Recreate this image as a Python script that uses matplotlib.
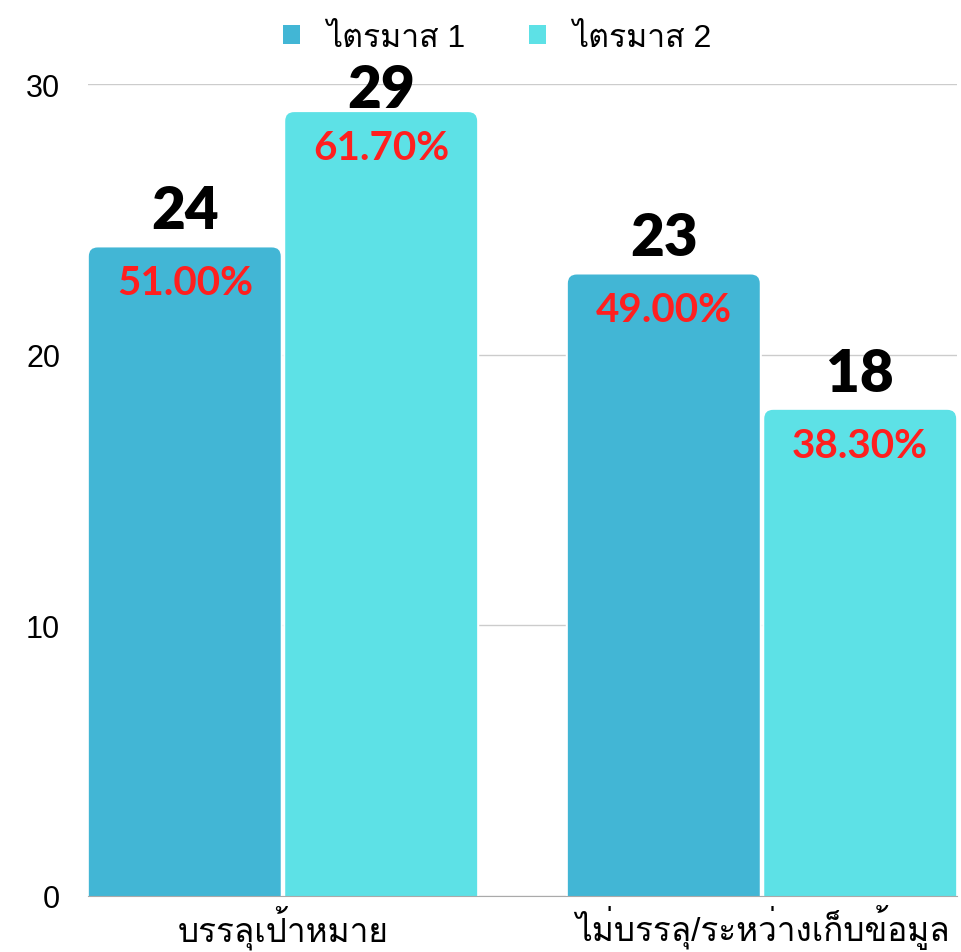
import numpy as np
import matplotlib
matplotlib.use('Agg')
import matplotlib.pyplot as plt
from matplotlib import font_manager
from matplotlib.ft2font import FT2Font
from matplotlib.patches import FancyBboxPatch, Patch

# data
categories = ['บรรลุเป้าหมาย', 'ไม่บรรลุ/ระหว่างเก็บข้อมูล']
series_names = ['ไตรมาส 1', 'ไตรมาส 2']
q1_values = [24, 23]
q2_values = [29, 18]
q1_pct = ['51.00%', '49.00%']
q2_pct = ['61.70%', '38.30%']
colors = ['#42B6D5', '#5DE1E6']


def find_thai_font():
    found = []
    for f in font_manager.fontManager.ttflist:
        try:
            if 0x0E44 in FT2Font(f.fname).get_charmap():
                found.append(f.name)
        except Exception:
            pass
    for pref in ['Loma', 'Noto Sans Thai Looped', 'Garuda', 'Tlwg Typo',
                 'Noto Sans Thai', 'Noto Sans Thai UI']:
        if pref in found:
            return pref
    return found[0] if found else 'DejaVu Sans'


thai = find_thai_font()
text_family = ['Liberation Sans', thai, 'DejaVu Sans']
num_family = ['Lato', 'DejaVu Sans']

fig = plt.figure(figsize=(9.61, 9.53), dpi=100)
ax = fig.add_axes([0.0916, 0.0588, 0.9042, 0.852])
ax.set_xlim(-0.407, 1.407)
ax.set_ylim(0, 30)

x = np.arange(len(categories))
w = 0.405
off = 0.205

# rounding: keep corners circular on screen
bb = ax.get_window_extent()
px_x = bb.width / 1.814
px_y = bb.height / 30
aspect = px_x / px_y
r = 10 / px_x
# value labels may not rise above this baseline (pixels from bottom)
label_ceiling = fig.bbox.height - 108

for vals, pcts, col, dx in [(q1_values, q1_pct, colors[0], -off),
                            (q2_values, q2_pct, colors[1], off)]:
    for xi, v, p in zip(x, vals, pcts):
        ry = r * aspect
        box = FancyBboxPatch((xi + dx - w / 2, -ry), w, v + ry,
                             boxstyle=f'round,pad=0,rounding_size={r}',
                             mutation_aspect=aspect,
                             facecolor=col, edgecolor='white', linewidth=1.5,
                             zorder=3)
        ax.add_patch(box)
        top_px = ax.transData.transform((0, v))[1]
        gap = min(18, label_ceiling - top_px) * 72 / fig.dpi
        ax.annotate(str(v), (xi + dx, v), xytext=(0, gap), textcoords='offset points',
                    ha='center', va='baseline', fontsize=42, fontweight='heavy',
                    family=num_family, color='black', annotation_clip=False, zorder=4)
        ax.annotate(p, (xi + dx, v), xytext=(0, -34.5), textcoords='offset points',
                    ha='center', va='baseline', fontsize=29, fontweight='bold',
                    family=num_family, color='#FF1F1F', zorder=4)

ax.set_yticks([0, 10, 20, 30])
ax.set_yticklabels(['0', '10', '20', '30'], fontsize=22, family=text_family)
ax.set_xticks(x)
ax.set_xticklabels(categories, fontsize=24, family=text_family)
ax.tick_params(axis='both', length=0)
ax.tick_params(axis='x', pad=6)
ax.tick_params(axis='y', pad=20)
ax.grid(axis='y', color='#CCCCCC', linewidth=1, zorder=0)
ax.set_axisbelow(True)
for s in ['left', 'right', 'top']:
    ax.spines[s].set_visible(False)
ax.spines['bottom'].set_color('#AAAAAA')
ax.spines['bottom'].set_zorder(5)

handles = [Patch(facecolor=c) for c in colors]
fig.legend(handles, series_names, loc='upper center', bbox_to_anchor=(497 / 961, 1.005),
           ncol=2, frameon=False, prop={'family': text_family, 'size': 23},
           handlelength=0.55, handleheight=0.55, columnspacing=2.0, handletextpad=0.8)

fig.savefig('out.png', dpi=100)
